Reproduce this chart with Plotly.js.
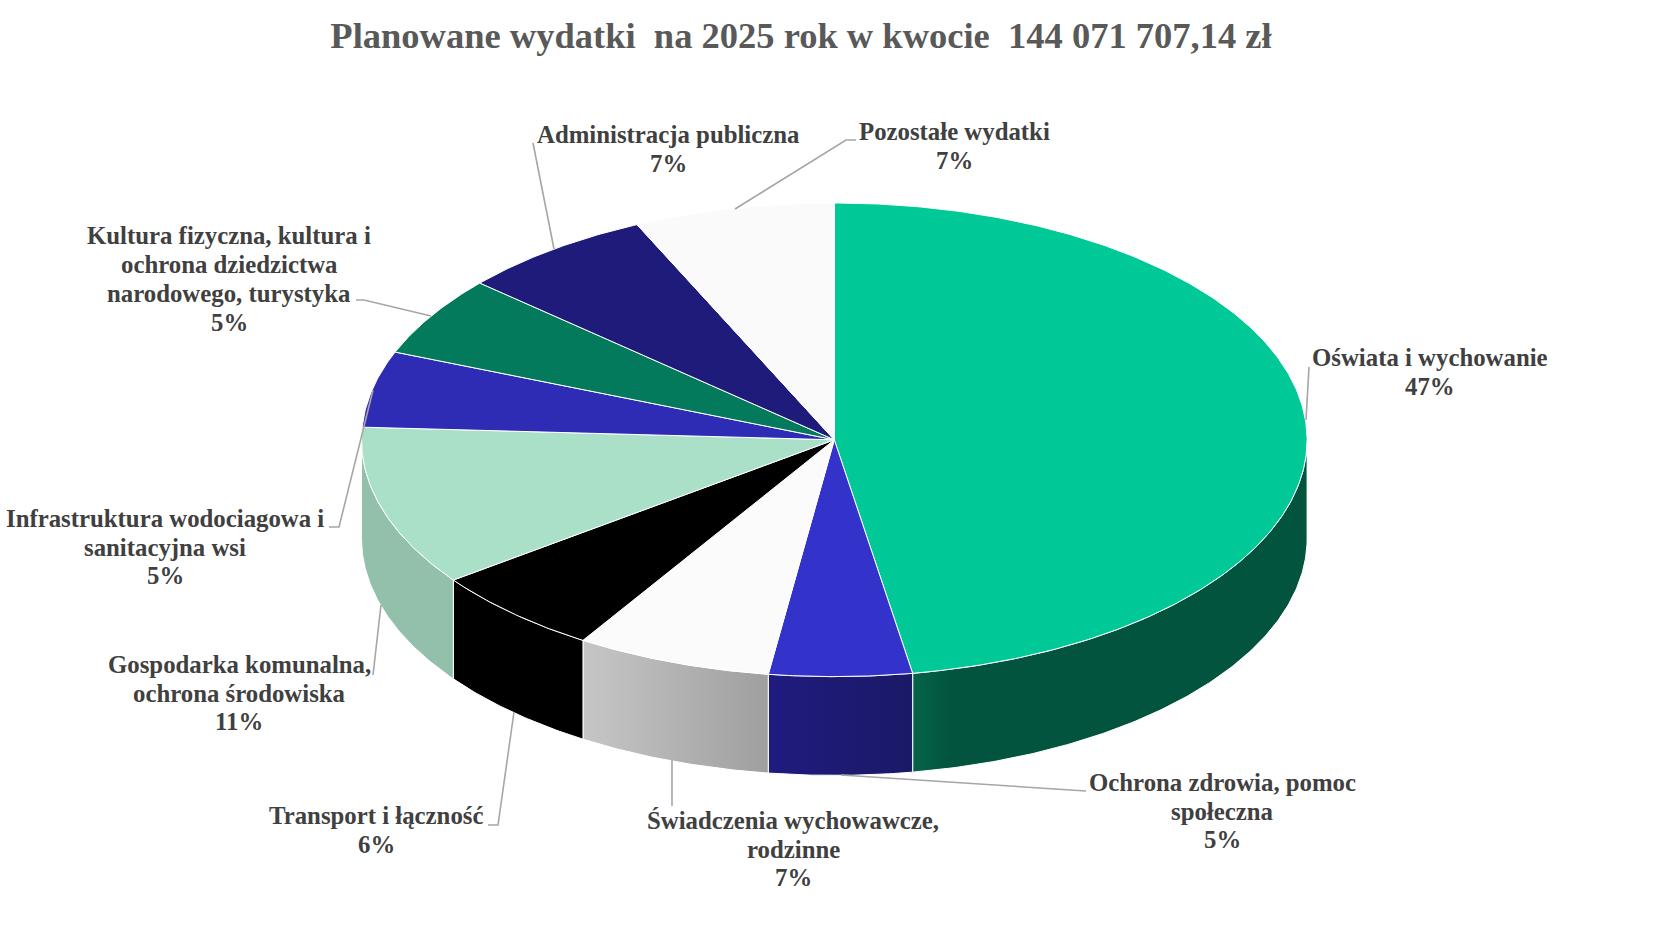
<!DOCTYPE html>
<html lang="pl">
<head>
<meta charset="utf-8">
<title>Planowane wydatki</title>
<script src="https://cdn.plot.ly/plotly-3.0.1.min.js"></script>
<style>html,body{margin:0;padding:0;background:#fff}#chart{width:1669px;height:926px}</style>
</head>
<body>
<div id="chart"></div>
<script>
var titleText = 'Planowane wydatki  na 2025 rok w kwocie  144 071 707,14 zł';
var categories = ['Oświata i wychowanie','Ochrona zdrowia, pomoc społeczna','Świadczenia wychowawcze, rodzinne','Transport i łączność','Gospodarka komunalna, ochrona środowiska','Infrastruktura wodociagowa i sanitacyjna wsi','Kultura fizyczna, kultura i ochrona dziedzictwa narodowego, turystyka','Administracja publiczna','Pozostałe wydatki'];
var sliceShares = [47.35,4.88,6.69,5.99,10.94,5.19,5.47,6.64,6.85];
var percentLabels = ['47%','5%','7%','6%','11%','5%','5%','7%','7%'];
var labelLines = [
  ['Oświata i wychowanie'],
  ['Ochrona zdrowia, pomoc','społeczna'],
  ['Świadczenia wychowawcze,','rodzinne'],
  ['Transport i łączność'],
  ['Gospodarka komunalna,','ochrona środowiska'],
  ['Infrastruktura wodociagowa i','sanitacyjna wsi'],
  ['Kultura fizyczna, kultura i','ochrona dziedzictwa','narodowego, turystyka'],
  ['Administracja publiczna'],
  ['Pozostałe wydatki']
];
var topColors = ['#00C997','#3333CC','#FBFBFB','#000000','#ABE0C8','#2E2CB4','#027A5B','#1F1B7A','#FAFAFA'];
var sideColors = [
  [[0,'#05634B'],[0.1,'#02543F'],[1,'#02543F']],
  [[0,'#1F1B80'],[1,'#1B1966']],
  [[0,'#C6C6C6'],[1,'#9F9F9F']],
  [[0,'#000000'],[1,'#000000']],
  [[0,'#93C0AB'],[1,'#93C0AB']]
];
var labelCenters = [[1430,372],[1222,811],[793,849],[376,830],[239,693],[165,547],[229,279],[668,149],[954,146]];
var leaderPaths = [
  [[1309,367],[1306,420]],
  [[1086,791],[841,775]],
  [[672,806],[672,760]],
  [[488,825],[498,825],[514,712]],
  [[373,675],[381,605]],
  [[329,527],[339,527],[373,390]],
  [[356,300],[364,300],[431,316]],
  [[533,143],[554,249]],
  [[856,140],[846,140],[735,209]]
];

var W = 1669, H = 926;
var CX = 834.3, CY = 439.8, RX = 472.8, RY = 236.8, DEPTH = 98.8 / RY, LINE_STEP = 28.7;

function arc(a0, a1, dy) {
  var pts = [], n = Math.max(2, Math.ceil(Math.abs(a1 - a0) * 2));
  for (var i = 0; i <= n; i++) {
    var t = (a0 + (a1 - a0) * i / n) * Math.PI / 180;
    pts.push([Math.sin(t), Math.cos(t) + dy]);
  }
  return pts;
}
function xy(pts) { return { x: pts.map(function (p) { return p[0]; }), y: pts.map(function (p) { return p[1]; }) }; }

var traces = [], tops = [], acc = 0;
sliceShares.forEach(function (v, i) {
  var a0 = acc * 3.6, a1 = (acc + v) * 3.6;
  acc += v;
  var p = xy([[0, 0]].concat(arc(a0, a1, 0)).concat([[0, 0]]));
  tops.push({
    type: 'scatter', mode: 'lines', x: p.x, y: p.y, fill: 'toself', fillcolor: topColors[i],
    line: { color: '#FFFFFF', width: 1 }, name: categories[i], text: percentLabels[i], hoverinfo: 'name+text', showlegend: false
  });
  var s0 = Math.max(a0, 90), s1 = Math.min(a1, 270);
  if (s1 > s0) {
    var upper = arc(s0, s1, 0), lower = arc(s1, s0, -DEPTH);
    var q = xy(upper.concat(lower).concat([upper[0]]));
    traces.push({
      type: 'scatter', mode: 'lines', x: q.x, y: q.y, fill: 'toself',
      fillcolor: sideColors[i][0][1],
      fillgradient: { type: 'horizontal', colorscale: sideColors[i] },
      line: { color: '#FFFFFF', width: 1 }, hoverinfo: 'skip', showlegend: false
    });
  }
});
traces = traces.concat(tops);

function px(x) { return x / W; }
function py(y) { return 1 - y / H; }

var annotations = [];
labelLines.forEach(function (lines, i) {
  var all = lines.concat([percentLabels[i]]);
  all.forEach(function (line, k) {
    annotations.push({
      xref: 'paper', yref: 'paper', x: px(labelCenters[i][0]),
      y: py(labelCenters[i][1] + (k - (all.length - 1) / 2) * LINE_STEP),
      xanchor: 'center', yanchor: 'middle', align: 'center', showarrow: false,
      text: '<b>' + line + '</b>',
      font: { family: '"Liberation Serif", serif', size: 24.8, color: '#404040' }
    });
  });
});
var shapes = leaderPaths.map(function (pts) {
  return {
    type: 'path', xref: 'paper', yref: 'paper', layer: 'above',
    path: pts.map(function (p, k) { return (k ? 'L' : 'M') + px(p[0]) + ' ' + py(p[1]); }).join(' '),
    line: { color: '#A6A6A6', width: 1.6 }, fillcolor: 'rgba(0,0,0,0)'
  };
});

var layout = {
  width: W, height: H, margin: { l: 0, r: 0, t: 0, b: 0 }, paper_bgcolor: '#FFFFFF', plot_bgcolor: '#FFFFFF',
  title: {
    text: '<b>' + titleText + '</b>', x: 801 / W, xanchor: 'center', xref: 'container',
    y: 1 - 35 / H, yanchor: 'middle', yref: 'container',
    font: { family: '"Liberation Serif", serif', size: 36.5, color: '#595959' }
  },
  xaxis: { range: [-CX / RX, (W - CX) / RX], visible: false, fixedrange: true },
  yaxis: { range: [-(H - CY) / RY, CY / RY], visible: false, fixedrange: true },
  showlegend: false, annotations: annotations, shapes: shapes
};
Plotly.newPlot('chart', traces, layout, { displayModeBar: false, responsive: false });
</script>
</body>
</html>
